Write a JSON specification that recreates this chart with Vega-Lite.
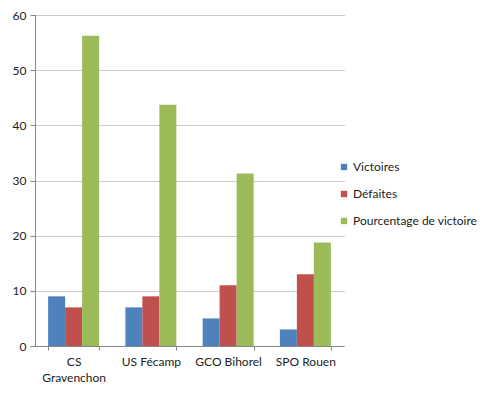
{
  "$schema": "https://vega.github.io/schema/vega-lite/v6.json",
  "autosize": "none",
  "width": 309,
  "height": 331,
  "padding": {"left": 35, "top": 15, "right": 138, "bottom": 51},
  "background": "white",
  "config": {
    "font": "Lato",
    "view": {"stroke": null},
    "axis": {"labelFont": "Lato", "labelFontSize": 12, "labelColor": "#222222", "domainColor": "#868686", "tickColor": "#868686"}
  },
  "data": {"values": [
    {"club": "CS Gravenchon", "serie": "Victoires", "valeur": 9},
    {"club": "CS Gravenchon", "serie": "Défaites", "valeur": 7},
    {"club": "CS Gravenchon", "serie": "Pourcentage de victoire", "valeur": 56.25},
    {"club": "US Fécamp", "serie": "Victoires", "valeur": 7},
    {"club": "US Fécamp", "serie": "Défaites", "valeur": 9},
    {"club": "US Fécamp", "serie": "Pourcentage de victoire", "valeur": 43.75},
    {"club": "GCO Bihorel", "serie": "Victoires", "valeur": 5},
    {"club": "GCO Bihorel", "serie": "Défaites", "valeur": 11},
    {"club": "GCO Bihorel", "serie": "Pourcentage de victoire", "valeur": 31.25},
    {"club": "SPO Rouen", "serie": "Victoires", "valeur": 3},
    {"club": "SPO Rouen", "serie": "Défaites", "valeur": 13},
    {"club": "SPO Rouen", "serie": "Pourcentage de victoire", "valeur": 18.75}
  ]},
  "mark": {"type": "bar"},
  "encoding": {
    "x": {
      "field": "club", "type": "nominal", "sort": null,
      "scale": {"paddingInner": 0.34, "paddingOuter": 0.17},
      "axis": {"title": null, "labelAngle": 0, "tickBand": "extent", "tickSize": 4, "labelPadding": 6,
               "labelExpr": "datum.value == 'CS Gravenchon' ? ['CS', 'Gravenchon'] : datum.value",
               "labelLineHeight": 16, "labelBaseline": "top"}
    },
    "xOffset": {"field": "serie", "type": "nominal", "sort": ["Victoires", "Défaites", "Pourcentage de victoire"]},
    "y": {
      "field": "valeur", "type": "quantitative",
      "scale": {"domain": [0, 60], "nice": false},
      "axis": {"title": null, "values": [0, 10, 20, 30, 40, 50, 60], "tickSize": 5, "labelPadding": 4,
               "gridColor": "#9a9a9a", "gridDash": [1, 1], "gridWidth": 1}
    },
    "color": {
      "field": "serie", "type": "nominal",
      "sort": ["Victoires", "Défaites", "Pourcentage de victoire"],
      "scale": {"domain": ["Victoires", "Défaites", "Pourcentage de victoire"], "range": ["#4F81BD", "#C0504D", "#9BBB59"]},
      "legend": {"title": null, "orient": "none", "legendX": 303, "legendY": 146, "symbolType": "square", "symbolSize": 40,
                 "symbolStrokeWidth": 0, "labelFontSize": 12, "labelFont": "Lato", "labelColor": "#222222", "rowPadding": 15, "labelOffset": 3}
    }
  }
}
